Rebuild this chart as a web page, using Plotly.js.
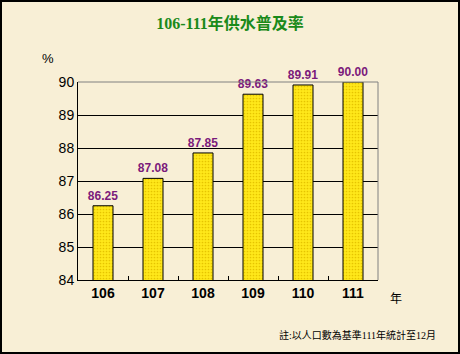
<!DOCTYPE html>
<html><head><meta charset="utf-8">
<script src="https://cdn.plot.ly/plotly-3.0.1.min.js"></script>
<style>html,body{margin:0;padding:0;}#c{width:460px;height:354px;}</style>
</head><body><div id="c"></div>
<script>
const years = ['106','107','108','109','110','111'];
const rates = [86.25, 87.08, 87.85, 89.63, 89.91, 90.00];
const labels = ['86.25','87.08','87.85','89.63','89.91','90.00'];

const trace = {
  type: 'bar', x: years, y: rates,
  text: labels, textposition: 'outside', cliponaxis: false, constraintext: 'none',
  textfont: {family: 'Arial, Liberation Sans', size: 12, color: '#7B1A7B', weight: 'bold'},
  marker: {color: '#FFE400', line: {color: '#000', width: 1},
    pattern: {shape: '.', fgcolor: '#E6C400', bgcolor: '#FFE81A', size: 3, solidity: 0.25}},
  hoverinfo: 'none'
};
const layout = {
  width: 460, height: 354,
  paper_bgcolor: '#F8EFD6', plot_bgcolor: 'rgba(0,0,0,0)',
  margin: {l: 78, r: 82, t: 82, b: 74},
  bargap: 0.6, showlegend: false,
  title: {text: '106-111年供水普及率', x: 0.5, xanchor: 'center', y: 0.935, yanchor: 'middle',
    font: {family: 'Liberation Serif, Noto Sans CJK TC', size: 16, color: '#1A8A1A', weight: 'bold'}},
  xaxis: {type: 'category', showgrid: false, showline: true, linecolor: '#000', linewidth: 1,
    ticks: 'inside', tickson: 'boundaries', ticklen: 4, tickcolor: '#000',
    tickfont: {family: 'Arial, Liberation Sans', size: 14, color: '#000', weight: 'bold'}},
  yaxis: {range: [84, 90], dtick: 1, showgrid: true, gridcolor: '#000', gridwidth: 1,
    showline: true, linecolor: '#000', linewidth: 1, ticks: '', ticklen: 0,
    tickfont: {family: 'Arial, Liberation Sans', size: 14, color: '#000'}, zeroline: false},
  shapes: [
    {type: 'line', xref: 'paper', yref: 'paper', x0: 0, x1: 1, y0: 1, y1: 1, line: {color: '#808080', width: 1}, layer: 'above'},
    {type: 'line', xref: 'paper', yref: 'paper', x0: 1, x1: 1, y0: 0, y1: 1, line: {color: '#808080', width: 1}, layer: 'above'}
  ],
  annotations: [
    {text: '%', xref: 'paper', yref: 'paper', x: -0.1, y: 1.12, xanchor: 'center', yanchor: 'middle', showarrow: false,
      font: {family: 'Arial, Liberation Sans', size: 13, color: '#000'}},
    {text: '年', xref: 'paper', yref: 'paper', x: 1.033, y: -0.09, xanchor: 'left', yanchor: 'middle', showarrow: false,
      font: {family: 'Noto Sans CJK TC', size: 12, color: '#000'}},
    {text: '註:以人口數為基準111年統計至12月', xref: 'paper', yref: 'paper', x: 1.2, y: -0.28, xanchor: 'right', yanchor: 'middle', showarrow: false,
      font: {family: 'Liberation Serif, Noto Sans CJK TC', size: 10, color: '#000'}}
  ]
};
Plotly.newPlot('c', [trace], layout, {displayModeBar: false, staticPlot: true});
</script>
<div style="position:absolute;left:0;top:0;width:456px;height:350px;border:2px solid #000;pointer-events:none;"></div>
</body></html>
